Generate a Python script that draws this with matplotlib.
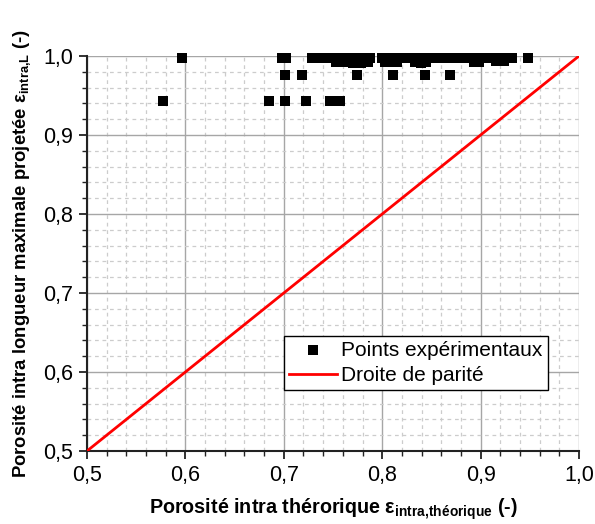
import matplotlib
matplotlib.use("Agg")
import matplotlib.pyplot as plt
from matplotlib.ticker import MultipleLocator, FixedLocator, FixedFormatter

plt.rcParams['font.family'] = ['Liberation Sans', 'DejaVu Sans']
plt.rcParams['mathtext.fontset'] = 'custom'
plt.rcParams['mathtext.rm'] = 'Liberation Sans:bold'
plt.rcParams['mathtext.it'] = 'Liberation Sans:bold'
plt.rcParams['mathtext.bf'] = 'Liberation Sans:bold'

# Experimental points (x: theoretical intra porosity, y: projected max-length intra porosity)
x_top = [0.597, 0.698, 0.702, 0.729, 0.735, 0.741, 0.746, 0.752, 0.758, 0.764, 0.770,
         0.776, 0.782, 0.788, 0.800, 0.806, 0.812, 0.818, 0.824, 0.830, 0.836, 0.842,
         0.848, 0.854, 0.860, 0.866, 0.872, 0.878, 0.884, 0.890, 0.896, 0.902, 0.908,
         0.914, 0.920, 0.926, 0.932, 0.948]
y_top = [0.997] * len(x_top)

x_band = [0.753, 0.762, 0.770, 0.778, 0.786, 0.803, 0.809, 0.815, 0.833, 0.839, 0.845,
          0.893, 0.898, 0.916, 0.924]
y_band = [0.993, 0.992, 0.991, 0.991, 0.992, 0.993, 0.992, 0.993, 0.992, 0.991, 0.992,
          0.993, 0.992, 0.994, 0.994]

x_mid = [0.701, 0.719, 0.774, 0.811, 0.843, 0.869]
y_mid = [0.976, 0.976, 0.976, 0.976, 0.976, 0.976]

x_low = [0.577, 0.685, 0.701, 0.723, 0.747, 0.752, 0.757]
y_low = [0.943, 0.943, 0.943, 0.943, 0.943, 0.943, 0.943]

x_exp = x_top + x_band + x_mid + x_low
y_exp = y_top + y_band + y_mid + y_low

# Parity line
x_par = [0.5, 1.0]
y_par = [0.5, 1.0]

ticks = [0.5, 0.6, 0.7, 0.8, 0.9, 1.0]
tick_labels = ['0,5', '0,6', '0,7', '0,8', '0,9', '1,0']

fig = plt.figure(figsize=(5.95, 5.24), dpi=100)
ax = fig.add_axes([87/595, 1 - 451/524, (579-87)/595, (451-56)/524])

ax.plot(x_par, y_par, color='#ff0000', lw=2, label='Droite de parité', zorder=3)
ax.scatter(x_exp, y_exp, marker='s', s=46, color='black', linewidths=0,
           label='Points expérimentaux', zorder=4, clip_on=False)

ax.set_xlim(0.5, 1.0)
ax.set_ylim(0.5, 1.0)
ax.xaxis.set_major_locator(FixedLocator(ticks))
ax.xaxis.set_major_formatter(FixedFormatter(tick_labels))
ax.yaxis.set_major_locator(FixedLocator(ticks))
ax.yaxis.set_major_formatter(FixedFormatter(tick_labels))
ax.xaxis.set_minor_locator(MultipleLocator(0.02))
ax.yaxis.set_minor_locator(MultipleLocator(0.02))

ax.grid(which='major', color='#a6a6a6', lw=1.0, ls='-', zorder=0)
ax.grid(which='minor', color='#cccccc', lw=0.9, ls=(0, (3, 3)), zorder=0)
ax.set_axisbelow(True)

for s in ['top', 'right']:
    ax.spines[s].set_visible(False)
for s in ['left', 'bottom']:
    ax.spines[s].set_linewidth(1.5)
    ax.spines[s].set_color('#222222')

ax.tick_params(which='major', direction='out', length=6, width=1.3, labelsize=15.5,
               colors='#222222', pad=4)
ax.tick_params(which='minor', direction='out', length=3.5, width=1.0, colors='#222222')
ax.tick_params(labelcolor='black')

ax.set_xlabel(r'Porosité intra thérorique ε$_{\mathrm{intra{,}théorique}}$ (-)',
              fontsize=14.2, fontweight='bold', labelpad=8)
ax.set_ylabel(r'Porosité intra longueur maximale projetée ε$_{\mathrm{intra{,}L}}$ (-)',
              fontsize=13.3, fontweight='bold', labelpad=7)

handles, labels = ax.get_legend_handles_labels()
leg = ax.legend(handles[::-1], labels[::-1], loc='upper left',
                bbox_to_anchor=(0.40, 0.292), fontsize=15, frameon=True,
                fancybox=False, edgecolor='black', framealpha=1,
                borderpad=0.25, handlelength=2.3, handletextpad=0.2,
                labelspacing=0.3, scatterpoints=1, borderaxespad=0)
leg.get_frame().set_linewidth(1.0)

fig.savefig('out.png', dpi=100)
